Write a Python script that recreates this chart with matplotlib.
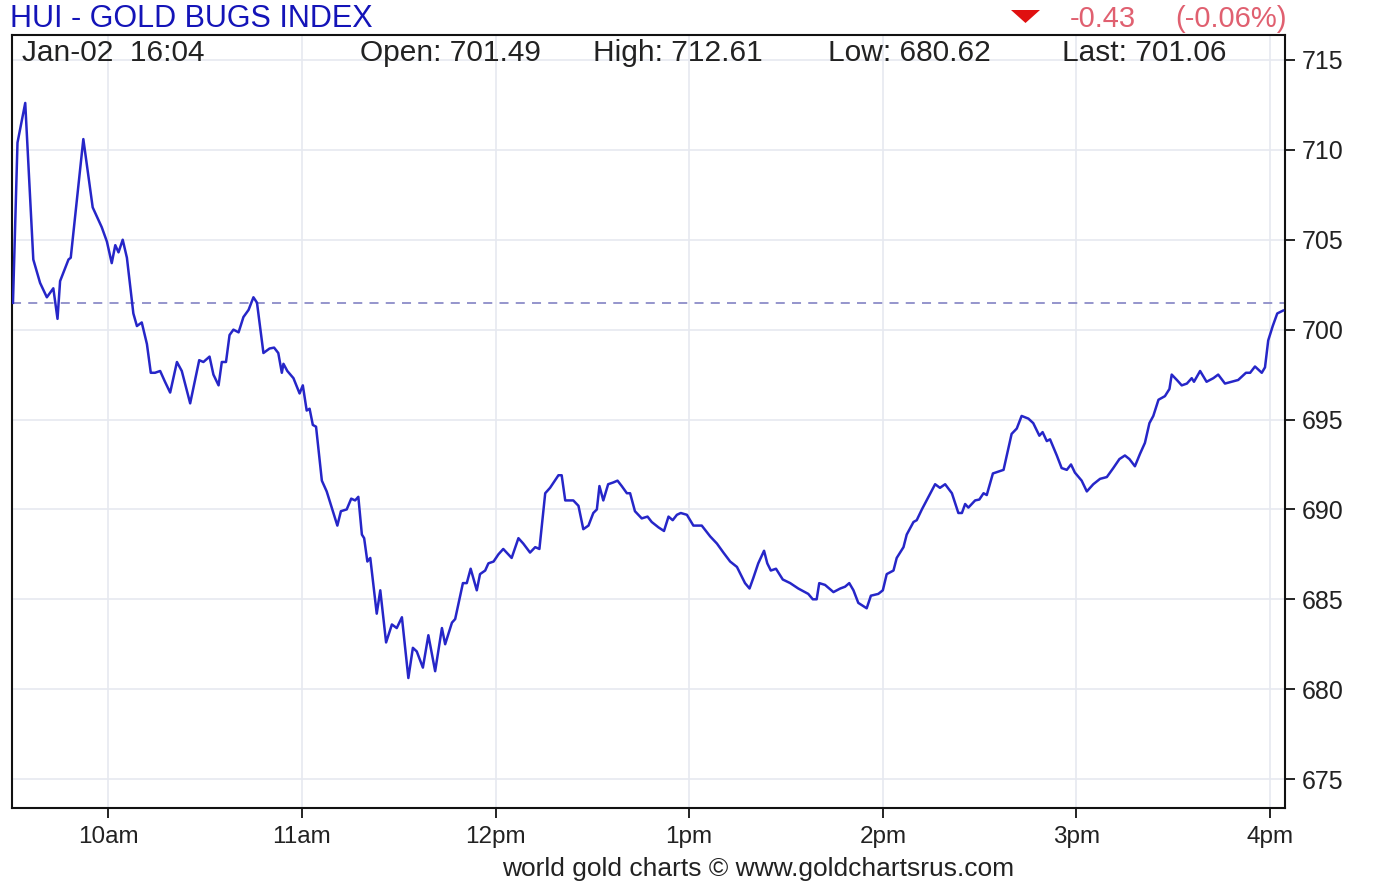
import matplotlib
matplotlib.use('Agg')
import matplotlib.pyplot as plt
from matplotlib.patches import Polygon

# minutes after 9:30 and HUI price
minutes = [0.5, 1.9, 4.3, 6.8, 8.9, 11.0, 13.0, 14.3, 15.1, 17.7, 18.4, 22.3, 25.2, 28.0, 29.6,
           31.1, 32.2, 33.2, 34.5, 35.8, 37.8, 38.9, 40.4, 42.0, 43.2, 44.5, 46.1, 47.6, 49.2,
           51.3, 52.8, 55.4, 58.2, 59.5, 61.4, 62.6, 64.2, 65.2, 66.5, 67.6, 68.8, 70.4, 71.9,
           73.5, 75.0, 76.1, 78.1, 80.0, 81.4, 82.7, 83.8, 84.3, 85.5, 87.4, 89.3, 90.3, 91.5,
           92.4, 93.4, 94.4, 96.2, 97.7, 101.0, 102.1, 103.9, 105.3, 106.5, 107.5, 108.6, 109.3,
           110.3, 111.2, 113.2, 114.3, 116.1, 117.9, 119.4, 121.0, 123.0, 124.4, 125.6, 127.5,
           129.2, 131.3, 133.4, 134.4, 136.5, 137.5, 139.9, 141.1, 142.3, 144.2, 145.2, 146.8,
           147.8, 149.4, 150.9, 152.4, 155.0, 157.1, 158.6, 160.7, 162.3, 163.6, 165.4, 166.9,
           169.5, 170.5, 171.6, 174.1, 175.7, 177.2, 178.8, 180.3, 181.4, 182.2, 183.4, 184.9,
           186.5, 187.8, 189.1, 190.7, 191.7, 193.2, 195.3, 197.1, 198.4, 200.5, 202.2, 203.6,
           204.9, 206.2, 207.4, 209.3, 211.3, 213.9, 216.5, 218.6, 220.6, 222.7, 224.8, 227.3,
           228.7, 229.9, 231.4, 233.2, 234.2, 235.3, 236.9, 239.0, 241.3, 243.8, 245.9, 246.9,
           248.3, 249.5, 250.3, 252.1, 254.7, 256.8, 258.3, 259.6, 260.9, 262.4, 265.0, 266.3,
           268.6, 270.0, 271.2, 273.3, 274.3, 276.4, 277.4, 279.5, 280.5, 282.1, 286.2, 287.7,
           289.3, 291.4, 293.4, 294.5, 295.5, 296.5, 298.6, 299.9, 301.2, 302.2, 304.1, 305.8,
           307.4, 308.9, 309.9, 311.5, 313.0, 315.1, 316.6, 318.5, 319.5, 320.8, 321.8, 323.9,
           325.4, 327.0, 328.3, 329.5, 331.6, 333.2, 335.2, 337.3, 339.4, 341.4, 343.3, 345.0,
           346.4, 348.1, 349.7, 351.2, 352.6, 353.8, 355.4, 357.4, 358.8, 359.5, 361.1, 362.6,
           364.2, 365.7, 366.4, 368.3, 370.3, 372.4, 373.9, 376.0, 378.1, 380.1, 382.5, 383.8,
           385.3, 387.4, 388.4, 389.4, 390.8, 392.2, 394.0]
prices = [701.49, 710.4, 712.61, 703.9, 702.6, 701.8, 702.3, 700.6, 702.7, 703.9, 704.0, 710.6,
          706.8, 705.7, 704.9, 703.7, 704.7, 704.3, 705.0, 704.0, 700.9, 700.2, 700.4, 699.2,
          697.6, 697.6, 697.7, 697.1, 696.5, 698.2, 697.7, 695.9, 698.3, 698.2, 698.5, 697.5,
          696.9, 698.2, 698.2, 699.7, 700.0, 699.85, 700.7, 701.1, 701.8, 701.5, 698.7, 698.95,
          699.0, 698.7, 697.6, 698.1, 697.7, 697.3, 696.45, 696.9, 695.5, 695.6, 694.7, 694.6,
          691.6, 691.0, 689.1, 689.9, 690.0, 690.6, 690.5, 690.7, 688.6, 688.4, 687.1, 687.3,
          684.2, 685.5, 682.6, 683.6, 683.4, 684.0, 680.62, 682.3, 682.1, 681.2, 683.0, 681.0,
          683.4, 682.5, 683.7, 683.9, 685.9, 685.9, 686.7, 685.5, 686.4, 686.6, 687.0, 687.1,
          687.5, 687.8, 687.3, 688.4, 688.1, 687.6, 687.9, 687.8, 690.9, 691.2, 691.9, 691.9,
          690.5, 690.5, 690.2, 688.9, 689.1, 689.8, 690.0, 691.3, 690.5, 691.4, 691.5, 691.6,
          691.3, 690.9, 690.9, 689.9, 689.5, 689.6, 689.3, 689.0, 688.8, 689.6, 689.4, 689.7,
          689.8, 689.7, 689.1, 689.1, 688.5, 688.1, 687.6, 687.1, 686.8, 685.9, 685.6, 686.2,
          687.0, 687.7, 687.0, 686.6, 686.7, 686.1, 685.9, 685.6, 685.4, 685.3, 685.0, 685.0,
          685.9, 685.8, 685.4, 685.6, 685.7, 685.9, 685.5, 684.8, 684.5, 685.2, 685.3, 685.5,
          686.4, 686.6, 687.3, 687.9, 688.6, 689.3, 689.4, 690.0, 691.4, 691.2, 691.4, 690.9,
          689.8, 689.8, 690.3, 690.1, 690.5, 690.55, 690.9, 690.8, 692.0, 692.1, 692.2, 693.4,
          694.2, 694.5, 695.2, 695.05, 694.8, 694.1, 694.3, 693.8, 693.9, 693.0, 692.3, 692.2,
          692.5, 692.05, 691.6, 691.0, 691.4, 691.7, 691.8, 692.3, 692.8, 693.0, 692.8, 692.4,
          693.1, 693.7, 694.8, 695.2, 696.1, 696.3, 696.7, 697.5, 697.2, 696.9, 697.0, 697.3,
          697.1, 697.7, 697.1, 697.3, 697.5, 697.0, 697.1, 697.2, 697.6, 697.6, 697.95, 697.6,
          697.9, 699.4, 700.2, 700.9, 701.06]

open_price = 701.49
y_ticks = [675, 680, 685, 690, 695, 700, 705, 710, 715]
x_ticks = [30, 90, 150, 210, 270, 330, 390]
x_labels = ['10am', '11am', '12pm', '1pm', '2pm', '3pm', '4pm']
header = [('Jan-02  16:04', 22), ('Open: 701.49', 360), ('High: 712.61', 593),
          ('Low: 680.62', 828), ('Last: 701.06', 1062)]

plt.rcParams['font.family'] = ['Liberation Sans', 'DejaVu Sans']

W, H = 1400, 885
fig = plt.figure(figsize=(14, 8.85), dpi=100)
ax = fig.add_axes([12 / W, 1 - 808 / H, 1273 / W, 773 / H])

ax.plot(minutes, prices, color='#2626c8', lw=1.8, zorder=3)
ax.axhline(open_price, color='#8c8cc8', lw=1.3, ls=(0, (5, 4)), zorder=2)

ax.set_xlim(0.2, 394.6)
ax.set_ylim(673.39, 716.39)
ax.set_yticks(y_ticks)
ax.set_xticks(x_ticks)
ax.set_xticklabels(x_labels)
ax.yaxis.tick_right()
ax.tick_params(axis='y', direction='out', length=7, width=1.2, pad=5, labelsize=18,
               labelcolor='#222222')
ax.tick_params(axis='x', direction='out', length=7, width=1.2, pad=6, labelsize=17.5,
               labelcolor='#222222')
ax.grid(True, color='#e6e9f0', lw=1.2, zorder=0)
for s in ax.spines.values():
    s.set_linewidth(1.5)
    s.set_color('#111111')

for txt, px in header:
    fig.text(px / W, 1 - 53 / H, txt, fontsize=21.5, color='#222222', va='center', ha='left')

fig.text(10 / W, 1 - 19 / H, 'HUI - GOLD BUGS INDEX', fontsize=22, color='#1414b8',
         va='center', ha='left', fontweight='medium')
tri = [(1011 / W, 1 - 10 / H), (1040 / W, 1 - 10 / H), (1025.5 / W, 1 - 23 / H)]
fig.add_artist(Polygon(tri, closed=True, transform=fig.transFigure, color='#e01010', lw=0))
fig.text(1070 / W, 1 - 19 / H, '-0.43', fontsize=21, color='#e06070', va='center', ha='left')
fig.text(1175 / W, 1 - 19 / H, '(-0.06%)', fontsize=21, color='#e06070', va='center',
         ha='left')
fig.text(758 / W, 1 - 869 / H, 'world gold charts \u00a9 www.goldchartsrus.com', fontsize=19,
         color='#222222', va='center', ha='center')

fig.savefig('out.png', dpi=100)
